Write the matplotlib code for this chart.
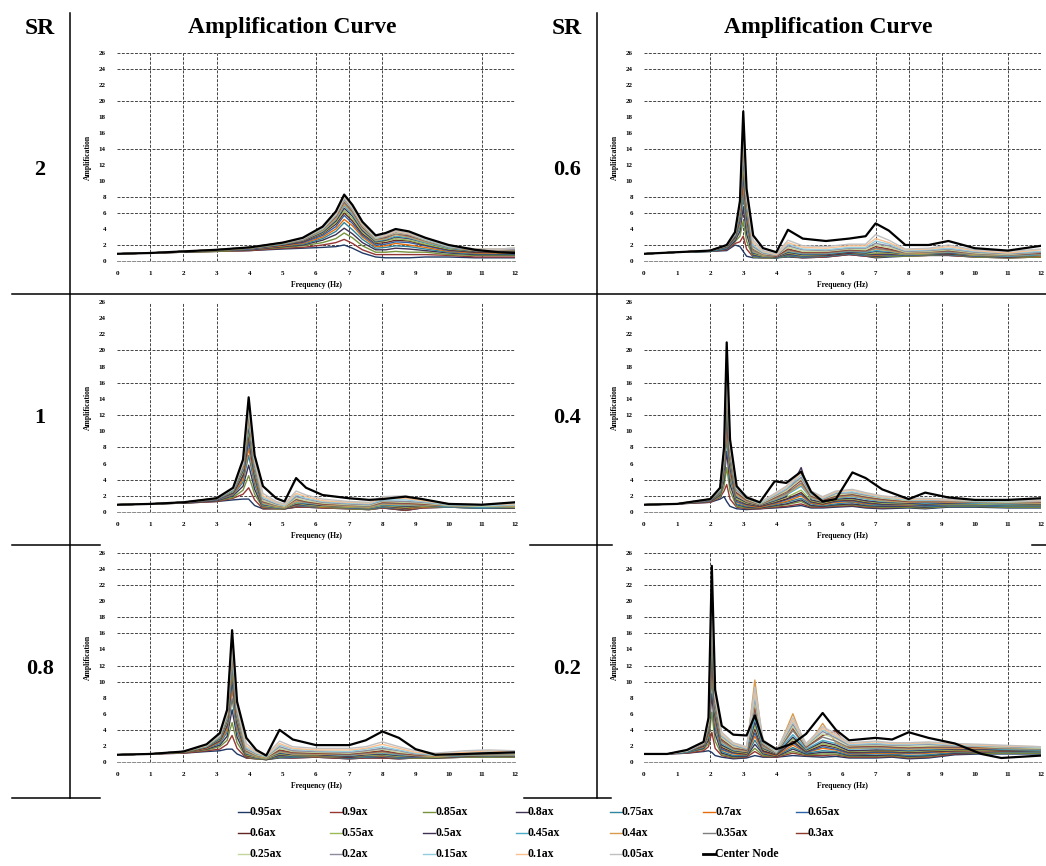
import matplotlib
matplotlib.use("Agg")
import matplotlib.pyplot as plt
from matplotlib.lines import Line2D

plt.rcParams['font.family'] = ['Liberation Serif', 'DejaVu Serif']
plt.rcParams['font.weight'] = 'bold'

# ---------------- data ----------------
series_labels = ['0.95ax', '0.9ax', '0.85ax', '0.8ax', '0.75ax', '0.7ax', '0.65ax',
                 '0.6ax', '0.55ax', '0.5ax', '0.45ax', '0.4ax', '0.35ax', '0.3ax',
                 '0.25ax', '0.2ax', '0.15ax', '0.1ax', '0.05ax', 'Center Node']
series_colors = ['#1F3864', '#953735', '#76923C', '#3F3151', '#31859C', '#E46C0A', '#2E62A6',
                 '#632523', '#9BBB59', '#403152', '#4BACC6', '#D99A4E', '#7F7F7F', '#8C3A2E',
                 '#C3D69B', '#8E8AA0', '#93CDDD', '#FAC090', '#C0C0C0', '#000000']

x_ticks = list(range(0, 13))
y_ticks = list(range(0, 27, 2))

# SR = 2
freq_sr2 = [0, 1, 2, 3, 4, 5, 5.6, 6.2, 6.6, 6.85, 7.1, 7.4, 7.8, 8.1, 8.4, 8.8, 9.3, 10, 10.8, 11.5, 12]
center_sr2 = [0.9, 1.0, 1.2, 1.4, 1.7, 2.3, 2.9, 4.3, 6.2, 8.3, 7.0, 4.9, 3.2, 3.5, 4.0, 3.7, 2.9, 2.0, 1.4, 1.1, 1.0]
ax_sr2 = [
    [0.9,1.0,1.1,1.2,1.3,1.5,1.6,1.7,1.8,2.0,1.6,1.0,0.5,0.4,0.4,0.4,0.5,0.5,0.4,0.4,0.4],
    [0.9,1.0,1.1,1.2,1.3,1.6,1.7,2.0,2.3,2.7,2.2,1.4,0.8,0.8,0.8,0.8,0.8,0.7,0.5,0.5,0.5],
    [0.9,1.0,1.1,1.2,1.4,1.7,1.9,2.3,2.8,3.5,2.9,1.9,1.1,1.1,1.2,1.1,1.1,0.8,0.7,0.7,0.7],
    [0.9,1.0,1.1,1.3,1.4,1.8,2.0,2.6,3.3,4.1,3.4,2.3,1.4,1.4,1.6,1.5,1.3,1.0,0.8,0.8,0.8],
    [0.9,1.0,1.2,1.3,1.5,1.9,2.1,2.8,3.7,4.8,3.9,2.7,1.6,1.7,1.9,1.8,1.5,1.1,0.9,0.9,0.9],
    [0.9,1.0,1.2,1.3,1.5,1.9,2.2,3.0,4.0,5.2,4.4,3.0,1.8,1.9,2.2,2.0,1.7,1.2,1.0,1.0,1.0],
    [0.9,1.0,1.2,1.3,1.5,2.0,2.3,3.2,4.3,5.7,4.7,3.2,2.0,2.1,2.4,2.3,1.9,1.3,1.1,1.1,1.1],
    [0.9,1.0,1.2,1.3,1.6,2.0,2.4,3.4,4.6,6.0,5.0,3.4,2.2,2.3,2.6,2.5,2.0,1.4,1.1,1.1,1.2],
    [0.9,1.0,1.2,1.3,1.6,2.1,2.5,3.5,4.8,6.3,5.3,3.6,2.3,2.5,2.8,2.6,2.1,1.5,1.2,1.2,1.3],
    [0.9,1.0,1.2,1.4,1.6,2.1,2.5,3.6,5.0,6.6,5.6,3.8,2.4,2.6,3.0,2.8,2.3,1.6,1.2,1.2,1.3],
    [0.9,1.0,1.2,1.4,1.6,2.1,2.6,3.7,5.2,6.9,5.8,4.0,2.5,2.7,3.1,2.9,2.3,1.6,1.3,1.3,1.4],
    [0.9,1.0,1.2,1.4,1.6,2.2,2.6,3.8,5.3,7.1,6.0,4.1,2.6,2.8,3.3,3.0,2.4,1.7,1.3,1.3,1.4],
    [0.9,1.0,1.2,1.4,1.7,2.2,2.6,3.9,5.5,7.3,6.1,4.2,2.7,2.9,3.4,3.1,2.5,1.7,1.4,1.4,1.4],
    [0.9,1.0,1.2,1.4,1.7,2.2,2.7,4.0,5.6,7.5,6.3,4.3,2.8,3.0,3.5,3.2,2.6,1.8,1.4,1.4,1.5],
    [0.9,1.0,1.2,1.4,1.7,2.2,2.7,4.0,5.7,7.6,6.4,4.4,2.8,3.1,3.5,3.3,2.6,1.8,1.4,1.4,1.5],
    [0.9,1.0,1.2,1.4,1.7,2.3,2.7,4.1,5.7,7.7,6.5,4.5,2.9,3.1,3.6,3.3,2.7,1.8,1.4,1.4,1.5],
    [0.9,1.0,1.2,1.4,1.7,2.3,2.8,4.1,5.8,7.9,6.6,4.6,2.9,3.2,3.7,3.4,2.7,1.8,1.5,1.5,1.6],
    [0.9,1.0,1.2,1.4,1.7,2.3,2.8,4.2,5.9,8.0,6.7,4.6,3.0,3.2,3.7,3.4,2.8,1.9,1.5,1.5,1.6],
    [0.9,1.0,1.2,1.4,1.7,2.3,2.8,4.2,6.0,8.1,6.8,4.7,3.0,3.3,3.8,3.5,2.8,1.9,1.5,1.5,1.6],
]

# SR = 0.6
freq_sr06 = [0, 1, 2, 2.5, 2.75, 2.9, 3.0, 3.1, 3.3, 3.6, 4.0, 4.35, 4.8, 5.5, 6.2, 6.7, 7.0, 7.4, 7.9, 8.6, 9.2, 10, 11, 12]
center_sr06 = [0.9, 1.1, 1.3, 2.0, 3.6, 7.5, 18.7, 9.0, 3.2, 1.6, 1.1, 3.9, 2.8, 2.5, 2.8, 3.1, 4.7, 3.8, 2.0, 2.0, 2.5, 1.6, 1.3, 1.9]
ax_sr06 = [
    [0.9,1.1,1.2,1.3,2.0,1.8,1.2,0.6,0.4,0.4,0.4,0.5,0.4,0.5,0.8,0.6,0.4,0.5,0.6,0.7,0.7,0.5,0.4,0.5],
    [0.9,1.1,1.2,1.4,2.2,2.4,3.1,1.5,0.5,0.4,0.4,0.6,0.4,0.5,0.8,0.6,0.5,0.6,0.6,0.7,0.7,0.5,0.4,0.5],
    [0.9,1.1,1.2,1.5,2.4,3.1,5.0,2.5,0.5,0.4,0.4,0.6,0.5,0.6,0.9,0.7,0.5,0.6,0.6,0.7,0.8,0.5,0.4,0.5],
    [0.9,1.1,1.2,1.5,2.5,3.7,6.7,3.4,0.6,0.5,0.4,0.7,0.5,0.6,0.9,0.7,0.6,0.7,0.7,0.8,0.8,0.6,0.5,0.6],
    [0.9,1.1,1.2,1.6,2.7,4.2,8.3,4.2,0.6,0.5,0.4,0.7,0.5,0.6,0.9,0.7,0.7,0.7,0.7,0.8,0.8,0.6,0.5,0.6],
    [0.9,1.1,1.3,1.7,2.8,4.7,9.6,4.8,0.7,0.5,0.5,0.8,0.6,0.7,1.0,0.8,0.7,0.8,0.7,0.8,0.9,0.6,0.5,0.6],
    [0.9,1.1,1.3,1.7,2.9,5.0,10.7,5.3,0.7,0.5,0.5,0.8,0.6,0.7,1.0,0.8,0.8,0.8,0.7,0.8,0.9,0.6,0.5,0.7],
    [0.9,1.1,1.3,1.8,3.0,5.4,11.6,5.8,0.8,0.6,0.5,0.9,0.7,0.7,1.0,0.9,0.9,0.9,0.8,0.9,0.9,0.7,0.5,0.7],
    [0.9,1.1,1.3,1.8,3.1,5.6,12.4,6.2,0.9,0.6,0.5,1.0,0.7,0.8,1.1,0.9,1.0,1.0,0.8,0.9,1.0,0.7,0.6,0.7],
    [0.9,1.1,1.3,1.8,3.1,5.9,13.2,6.6,1.0,0.7,0.5,1.1,0.8,0.8,1.1,1.0,1.2,1.1,0.9,1.0,1.0,0.8,0.6,0.8],
    [0.9,1.1,1.3,1.9,3.2,6.1,13.8,6.9,1.1,0.7,0.6,1.2,0.9,0.9,1.2,1.1,1.3,1.2,0.9,1.0,1.1,0.8,0.6,0.8],
    [0.9,1.1,1.3,1.9,3.3,6.3,14.5,7.2,1.2,0.7,0.6,1.3,1.0,1.0,1.3,1.2,1.5,1.3,0.9,1.0,1.2,0.8,0.7,0.9],
    [0.9,1.1,1.3,1.9,3.3,6.5,15.0,7.5,1.3,0.8,0.6,1.4,1.0,1.0,1.3,1.2,1.6,1.4,1.0,1.1,1.2,0.9,0.7,0.9],
    [0.9,1.1,1.3,1.9,3.4,6.7,15.4,7.7,1.5,0.9,0.6,1.5,1.1,1.1,1.4,1.3,1.8,1.5,1.1,1.2,1.3,1.0,0.8,1.0],
    [0.9,1.1,1.3,1.9,3.4,6.8,15.7,7.9,1.6,0.9,0.7,1.7,1.2,1.2,1.5,1.4,2.0,1.7,1.1,1.2,1.4,1.0,0.8,1.1],
    [0.9,1.1,1.3,2.0,3.4,6.9,16.1,8.0,1.8,1.0,0.7,1.9,1.4,1.3,1.6,1.6,2.2,1.9,1.2,1.3,1.5,1.1,0.9,1.1],
    [0.9,1.1,1.3,2.0,3.4,7.0,16.4,8.2,2.0,1.1,0.8,2.1,1.5,1.4,1.7,1.7,2.5,2.1,1.3,1.4,1.6,1.2,1.0,1.2],
    [0.9,1.1,1.3,2.0,3.5,7.1,16.7,8.3,2.3,1.2,0.8,2.3,1.7,1.6,1.9,1.9,2.8,2.3,1.4,1.5,1.8,1.3,1.0,1.4],
    [0.9,1.1,1.3,2.0,3.5,7.2,16.8,8.4,2.6,1.3,0.9,2.6,1.9,1.8,2.1,2.1,3.3,2.6,1.5,1.6,2.0,1.4,1.2,1.5],
]

# SR = 1
freq_sr1 = [0, 1, 2, 3, 3.5, 3.8, 3.97, 4.15, 4.4, 4.8, 5.05, 5.4, 5.7, 6.2, 7.0, 7.6, 8.0, 8.7, 9.2, 10, 11, 12]
center_sr1 = [0.9, 1.0, 1.2, 1.7, 3.0, 6.5, 14.2, 7.0, 3.2, 1.7, 1.3, 4.2, 3.0, 2.1, 1.7, 1.5, 1.6, 1.9, 1.6, 1.0, 0.9, 1.2]
ax_sr1 = [
    [0.9,1.0,1.1,1.3,1.5,1.6,1.6,0.8,0.4,0.4,0.4,0.6,0.6,0.5,0.4,0.3,0.5,0.2,0.5,0.6,0.5,0.5],
    [0.9,1.0,1.1,1.3,1.7,2.2,3.0,1.5,0.4,0.4,0.4,0.6,0.6,0.5,0.4,0.3,0.5,0.2,0.5,0.6,0.5,0.5],
    [0.9,1.0,1.1,1.4,1.8,2.7,4.5,2.2,0.5,0.4,0.4,0.7,0.7,0.6,0.4,0.3,0.6,0.3,0.6,0.6,0.5,0.5],
    [0.9,1.0,1.1,1.4,2.0,3.2,5.8,2.8,0.5,0.5,0.4,0.7,0.7,0.6,0.5,0.4,0.6,0.3,0.6,0.6,0.5,0.5],
    [0.9,1.0,1.2,1.5,2.1,3.7,7.0,3.4,0.6,0.5,0.5,0.8,0.7,0.6,0.5,0.4,0.6,0.4,0.6,0.6,0.5,0.6],
    [0.9,1.0,1.2,1.5,2.2,4.0,7.9,3.9,0.6,0.5,0.5,0.8,0.8,0.6,0.5,0.4,0.7,0.4,0.6,0.7,0.6,0.6],
    [0.9,1.0,1.2,1.5,2.3,4.4,8.7,4.3,0.7,0.5,0.5,0.9,0.8,0.7,0.5,0.4,0.7,0.5,0.7,0.7,0.6,0.6],
    [0.9,1.0,1.2,1.6,2.4,4.6,9.5,4.6,0.8,0.6,0.5,1.0,0.9,0.7,0.6,0.5,0.8,0.5,0.7,0.7,0.6,0.6],
    [0.9,1.0,1.2,1.6,2.5,4.9,10.1,4.9,0.8,0.6,0.5,1.1,0.9,0.7,0.6,0.5,0.8,0.6,0.7,0.7,0.6,0.6],
    [0.9,1.0,1.2,1.6,2.6,5.1,10.6,5.2,0.9,0.7,0.6,1.2,1.0,0.8,0.7,0.6,0.9,0.7,0.8,0.7,0.6,0.7],
    [0.9,1.0,1.2,1.6,2.6,5.3,11.1,5.4,1.0,0.7,0.6,1.2,1.1,0.9,0.7,0.6,0.9,0.8,0.9,0.7,0.6,0.7],
    [0.9,1.0,1.2,1.6,2.7,5.5,11.6,5.7,1.1,0.7,0.6,1.3,1.2,0.9,0.7,0.6,1.0,0.9,0.9,0.8,0.7,0.7],
    [0.9,1.0,1.2,1.6,2.7,5.6,12.0,5.8,1.2,0.8,0.7,1.5,1.2,1.0,0.8,0.7,1.1,1.0,1.0,0.8,0.7,0.8],
    [0.9,1.0,1.2,1.7,2.8,5.7,12.3,6.0,1.3,0.9,0.7,1.6,1.3,1.0,0.9,0.8,1.2,1.1,1.0,0.8,0.7,0.8],
    [0.9,1.0,1.2,1.7,2.8,5.8,12.5,6.1,1.4,0.9,0.7,1.7,1.4,1.1,0.9,0.8,1.3,1.2,1.1,0.8,0.7,0.8],
    [0.9,1.0,1.2,1.7,2.8,5.9,12.8,6.3,1.6,1.0,0.8,1.9,1.6,1.2,1.0,0.9,1.4,1.3,1.2,0.9,0.8,0.9],
    [0.9,1.0,1.2,1.7,2.8,6.0,13.0,6.4,1.8,1.1,0.8,2.1,1.7,1.3,1.1,1.0,1.5,1.5,1.3,0.9,0.8,0.9],
    [0.9,1.0,1.2,1.7,2.9,6.1,13.3,6.5,2.0,1.2,0.9,2.3,1.9,1.4,1.2,1.1,1.7,1.7,1.4,1.0,0.9,1.0],
    [0.9,1.0,1.2,1.7,2.9,6.2,13.4,6.5,2.3,1.3,1.0,2.6,2.1,1.6,1.3,1.2,1.9,2.0,1.6,1.0,0.9,1.1],
]

# SR = 0.4
freq_sr04 = [0, 1, 2.0, 2.3, 2.42, 2.5, 2.6, 2.8, 3.1, 3.5, 3.95, 4.3, 4.75, 5.05, 5.4, 5.8, 6.3, 6.7, 7.2, 8.0, 8.5, 9.2, 10, 11, 12]
center_sr04 = [0.9, 1.0, 1.6, 3.0, 8.0, 21.0, 9.0, 3.2, 1.8, 1.2, 3.8, 3.6, 5.0, 2.5, 1.3, 1.6, 4.9, 4.2, 2.8, 1.6, 2.4, 1.8, 1.5, 1.5, 1.7]
ax_sr04 = [
    [0.9,1.0,1.2,1.6,1.9,1.3,0.7,0.4,0.3,0.4,0.5,0.6,0.8,0.5,0.5,0.6,0.7,0.5,0.4,0.5,0.4,0.6,0.6,0.5,0.5],
    [0.9,1.0,1.2,1.8,2.6,3.4,1.6,0.6,0.4,0.4,0.6,0.7,1.0,0.6,0.6,0.7,0.8,0.6,0.5,0.6,0.5,0.7,0.7,0.6,0.6],
    [0.9,1.0,1.3,1.9,3.2,5.5,2.6,0.7,0.5,0.5,0.7,0.9,1.3,0.7,0.7,0.8,0.9,0.7,0.6,0.6,0.5,0.7,0.7,0.6,0.6],
    [0.9,1.0,1.3,2.1,3.9,7.5,3.4,0.9,0.6,0.5,0.8,1.0,1.5,0.8,0.7,0.9,1.0,0.8,0.7,0.7,0.6,0.8,0.8,0.7,0.7],
    [0.9,1.0,1.4,2.2,4.4,9.3,4.2,1.0,0.7,0.6,0.9,1.2,1.7,1.0,0.8,1.0,1.2,0.9,0.8,0.8,0.7,0.8,0.8,0.7,0.7],
    [0.9,1.0,1.4,2.3,4.9,10.7,4.8,1.2,0.8,0.6,1.0,1.3,2.0,1.1,0.9,1.2,1.3,1.0,0.9,0.8,0.8,0.9,0.9,0.8,0.8],
    [0.9,1.0,1.4,2.4,5.3,11.9,5.4,1.3,0.9,0.7,1.1,1.5,2.2,1.2,1.0,1.3,1.4,1.1,0.9,0.9,0.8,0.9,0.9,0.8,0.8],
    [0.9,1.0,1.5,2.5,5.6,13.0,5.8,1.5,1.0,0.7,1.2,1.6,2.4,1.3,1.0,1.4,1.5,1.2,1.0,1.0,0.9,1.0,1.0,0.9,0.9],
    [0.9,1.0,1.5,2.5,5.9,13.9,6.2,1.6,1.1,0.8,1.3,1.8,2.7,1.4,1.1,1.5,1.6,1.3,1.1,1.0,1.0,1.0,1.0,0.9,0.9],
    [0.9,1.0,1.5,2.6,6.2,14.8,6.6,1.8,1.2,0.8,1.4,1.9,5.5,1.5,1.2,1.6,1.7,1.4,1.2,1.1,1.0,1.1,1.1,1.0,1.0],
    [0.9,1.0,1.5,2.6,6.4,15.5,6.9,2.0,1.3,0.9,1.5,2.1,3.2,1.7,1.3,1.7,1.9,1.6,1.3,1.2,1.1,1.2,1.1,1.0,1.1],
    [0.9,1.0,1.5,2.7,6.6,16.2,7.3,2.1,1.3,0.9,1.6,2.2,3.4,1.8,1.3,1.8,2.0,1.7,1.4,1.2,1.2,1.2,1.2,1.1,1.1],
    [0.9,1.0,1.5,2.7,6.8,16.7,7.5,2.3,1.4,0.9,1.7,2.3,3.6,1.9,1.4,1.9,2.1,1.8,1.5,1.3,1.2,1.3,1.2,1.1,1.2],
    [0.9,1.0,1.6,2.8,6.9,17.2,7.7,2.4,1.5,1.0,1.8,2.5,3.9,2.0,1.5,2.0,2.2,1.9,1.6,1.3,1.3,1.3,1.3,1.2,1.2],
    [0.9,1.0,1.6,2.8,7.1,17.6,7.9,2.6,1.6,1.0,1.9,2.6,4.1,2.1,1.6,2.1,2.3,2.0,1.7,1.4,1.4,1.4,1.3,1.2,1.3],
    [0.9,1.0,1.6,2.8,7.2,17.9,8.0,2.7,1.7,1.1,2.0,2.8,4.3,2.2,1.6,2.3,2.4,2.1,1.8,1.5,1.5,1.4,1.4,1.3,1.3],
    [0.9,1.0,1.6,2.8,7.3,18.3,8.2,2.9,1.8,1.1,2.1,2.9,4.6,2.3,1.7,2.4,2.5,2.2,1.8,1.5,1.5,1.5,1.4,1.3,1.4],
    [0.9,1.0,1.6,2.9,7.4,18.6,8.3,3.0,1.9,1.2,2.2,3.1,4.8,2.5,1.8,2.5,2.7,2.3,1.9,1.6,1.6,1.5,1.5,1.4,1.4],
    [0.9,1.0,1.6,2.9,7.4,18.8,8.4,3.2,2.0,1.2,2.3,3.2,5.0,2.6,1.9,2.6,2.8,2.4,2.0,1.7,1.7,1.6,1.5,1.4,1.5],
]

# SR = 0.8
freq_sr08 = [0, 1, 2, 2.7, 3.1, 3.32, 3.47, 3.62, 3.9, 4.2, 4.5, 4.9, 5.3, 6.0, 7.0, 7.5, 8.0, 8.5, 9.0, 9.6, 10.5, 11.2, 12]
center_sr08 = [0.9, 1.0, 1.3, 2.2, 3.6, 6.5, 16.4, 7.5, 3.0, 1.5, 0.8, 4.0, 2.8, 2.1, 2.1, 2.7, 3.8, 3.0, 1.6, 0.9, 1.0, 1.1, 1.2]
ax_sr08 = [
    [0.9,1.0,1.1,1.3,1.4,1.6,1.6,1.0,0.5,0.4,0.3,0.5,0.5,0.6,0.4,0.5,0.5,0.4,0.5,0.5,0.6,0.6,0.6],
    [0.9,1.0,1.1,1.4,1.6,2.2,3.3,1.7,0.5,0.4,0.3,0.6,0.5,0.6,0.4,0.5,0.5,0.4,0.5,0.5,0.6,0.6,0.6],
    [0.9,1.0,1.2,1.5,1.9,2.7,4.9,2.4,0.6,0.4,0.3,0.6,0.6,0.7,0.5,0.6,0.6,0.5,0.5,0.5,0.6,0.6,0.6],
    [0.9,1.0,1.2,1.6,2.1,3.2,6.5,3.1,0.6,0.5,0.3,0.7,0.6,0.7,0.5,0.6,0.6,0.5,0.6,0.5,0.7,0.7,0.7],
    [0.9,1.0,1.2,1.7,2.3,3.7,7.9,3.7,0.7,0.5,0.4,0.7,0.6,0.7,0.5,0.6,0.7,0.5,0.6,0.6,0.7,0.7,0.7],
    [0.9,1.0,1.2,1.7,2.5,4.0,9.0,4.2,0.7,0.5,0.4,0.8,0.7,0.7,0.6,0.7,0.7,0.6,0.6,0.6,0.7,0.7,0.7],
    [0.9,1.0,1.2,1.8,2.6,4.4,9.9,4.6,0.8,0.5,0.4,0.8,0.7,0.8,0.6,0.7,0.8,0.6,0.6,0.6,0.7,0.7,0.7],
    [0.9,1.0,1.2,1.8,2.7,4.6,10.8,5.0,0.8,0.6,0.4,0.9,0.8,0.8,0.6,0.8,0.9,0.7,0.7,0.6,0.7,0.8,0.7],
    [0.9,1.0,1.2,1.9,2.8,4.9,11.5,5.3,0.9,0.6,0.4,1.0,0.8,0.8,0.7,0.8,0.9,0.7,0.7,0.6,0.8,0.8,0.8],
    [0.9,1.0,1.3,1.9,2.9,5.1,12.2,5.6,1.0,0.7,0.5,1.1,0.9,0.9,0.7,0.9,1.0,0.8,0.7,0.7,0.8,0.9,0.8],
    [0.9,1.0,1.3,1.9,3.0,5.3,12.7,5.8,1.1,0.7,0.5,1.2,1.0,1.0,0.8,1.0,1.1,0.9,0.8,0.7,0.8,0.9,0.8],
    [0.9,1.0,1.3,2.0,3.1,5.5,13.3,6.0,1.2,0.7,0.5,1.3,1.0,1.0,0.9,1.0,1.2,1.0,0.8,0.7,0.9,0.9,0.9],
    [0.9,1.0,1.3,2.0,3.1,5.6,13.7,6.2,1.3,0.8,0.6,1.4,1.1,1.1,0.9,1.1,1.3,1.0,0.9,0.8,0.9,1.0,0.9],
    [0.9,1.0,1.3,2.0,3.2,5.7,14.1,6.4,1.4,0.9,0.6,1.5,1.2,1.1,1.0,1.2,1.4,1.1,0.9,0.8,1.0,1.1,1.0],
    [0.9,1.0,1.3,2.0,3.2,5.8,14.4,6.5,1.5,0.9,0.6,1.7,1.3,1.2,1.1,1.3,1.6,1.2,1.0,0.8,1.0,1.1,1.0],
    [0.9,1.0,1.3,2.1,3.3,5.9,14.7,6.6,1.6,1.0,0.7,1.9,1.4,1.3,1.2,1.4,1.7,1.4,1.0,0.9,1.1,1.2,1.1],
    [0.9,1.0,1.3,2.1,3.3,6.0,14.9,6.8,1.8,1.1,0.7,2.1,1.6,1.4,1.3,1.6,1.9,1.5,1.1,0.9,1.2,1.3,1.2],
    [0.9,1.0,1.3,2.1,3.4,6.1,15.2,6.9,2.0,1.2,0.8,2.3,1.7,1.5,1.5,1.7,2.2,1.7,1.2,1.0,1.2,1.4,1.2],
    [0.9,1.0,1.3,2.1,3.4,6.2,15.4,6.9,2.3,1.3,0.9,2.6,1.9,1.7,1.7,1.9,2.5,1.9,1.4,1.1,1.4,1.5,1.4],
]

# SR = 0.2
freq_sr02 = [0, 0.7, 1.3, 1.8, 1.95, 2.05, 2.15, 2.35, 2.7, 3.1, 3.35, 3.6, 4.0, 4.5, 4.9, 5.4, 5.8, 6.2, 7.0, 7.5, 8.0, 8.6, 9.4, 10.2, 10.8, 12]
center_sr02 = [1.0, 1.0, 1.5, 2.5, 5.5, 24.4, 9.0, 4.5, 3.4, 3.3, 5.8, 2.6, 1.6, 2.3, 3.5, 6.1, 4.0, 2.7, 3.0, 2.8, 3.7, 3.0, 2.3, 1.0, 0.5, 0.8]
ax_sr02 = [
    [1.0,1.0,1.1,1.3,1.4,1.2,0.8,0.6,0.4,0.5,0.8,0.6,0.6,0.8,0.7,0.6,0.7,0.5,0.5,0.6,0.4,0.5,0.9,1.0,1.0,1.0],
    [1.0,1.0,1.1,1.4,1.9,3.7,1.7,0.8,0.5,0.6,1.3,0.7,0.6,1.1,0.8,0.8,0.9,0.6,0.6,0.7,0.5,0.6,1.0,1.1,1.1,1.1],
    [1.0,1.0,1.2,1.6,2.3,6.2,2.6,0.9,0.6,0.7,1.7,0.8,0.7,1.3,0.9,1.0,1.0,0.7,0.7,0.8,0.6,0.7,1.1,1.1,1.1,1.1],
    [1.0,1.0,1.2,1.7,2.7,8.5,3.5,1.1,0.7,0.7,2.2,1.0,0.7,1.6,1.0,1.2,1.2,0.8,0.8,0.9,0.7,0.8,1.1,1.2,1.2,1.2],
    [1.0,1.0,1.2,1.8,3.1,10.6,4.3,1.3,0.8,0.8,2.7,1.1,0.8,1.8,1.1,1.4,1.3,0.9,1.0,1.0,0.8,0.9,1.2,1.3,1.2,1.2],
    [1.0,1.0,1.3,1.9,3.4,12.2,4.9,1.5,1.0,0.9,3.2,1.2,0.8,2.1,1.2,1.7,1.5,1.0,1.1,1.1,1.0,1.1,1.3,1.3,1.3,1.3],
    [1.0,1.0,1.3,2.0,3.7,13.7,5.4,1.6,1.1,1.0,3.6,1.3,0.9,2.4,1.2,1.9,1.6,1.1,1.2,1.2,1.1,1.2,1.4,1.4,1.4,1.3],
    [1.0,1.0,1.3,2.0,3.9,14.9,5.9,1.8,1.2,1.0,4.1,1.4,0.9,2.6,1.3,2.1,1.8,1.2,1.3,1.3,1.2,1.3,1.4,1.5,1.4,1.4],
    [1.0,1.0,1.3,2.1,4.1,16.0,6.3,2.0,1.3,1.1,4.6,1.6,1.0,2.9,1.4,2.3,1.9,1.3,1.4,1.4,1.3,1.4,1.5,1.5,1.5,1.4],
    [1.0,1.0,1.3,2.1,4.3,17.0,6.7,2.1,1.4,1.2,5.0,1.7,1.0,3.1,1.5,2.5,2.1,1.4,1.5,1.5,1.4,1.5,1.6,1.6,1.5,1.5],
    [1.0,1.0,1.3,2.2,4.4,17.8,7.0,2.3,1.5,1.3,5.5,1.8,1.1,3.4,1.6,2.7,2.3,1.6,1.7,1.6,1.5,1.6,1.7,1.7,1.6,1.5],
    [1.0,1.0,1.4,2.2,4.6,18.7,7.3,2.5,1.6,1.3,10.2,1.9,1.1,6.0,1.7,4.8,2.4,1.7,1.8,1.7,1.6,1.7,1.7,1.7,1.7,1.6],
    [1.0,1.0,1.4,2.3,4.7,19.3,7.5,2.6,1.7,1.4,6.4,2.0,1.1,3.9,1.8,3.1,2.6,1.8,1.9,1.8,1.7,1.8,1.8,1.8,1.7,1.6],
    [1.0,1.0,1.4,2.3,4.8,19.9,7.7,2.8,1.8,1.5,6.9,2.2,1.2,4.2,1.9,3.3,3.8,1.9,2.0,1.9,1.8,1.9,1.9,1.8,1.8,1.7],
    [1.0,1.0,1.4,2.3,4.9,20.3,7.9,3.0,1.9,1.6,7.4,2.3,1.2,4.4,2.0,3.5,2.9,2.0,2.1,2.0,1.9,2.0,2.0,1.9,1.8,1.7],
    [1.0,1.0,1.4,2.3,5.0,20.8,8.0,3.2,2.1,1.6,7.9,2.4,1.3,4.7,2.1,3.8,3.0,2.1,2.2,2.1,2.1,2.2,2.0,2.0,1.9,1.8],
    [1.0,1.0,1.4,2.4,5.0,21.2,8.2,3.3,2.2,1.7,8.3,2.5,1.3,5.0,2.1,4.0,3.2,2.2,2.3,2.2,2.2,2.3,2.1,2.0,2.0,1.8],
    [1.0,1.0,1.4,2.4,5.1,21.6,8.3,3.5,2.3,1.8,8.8,2.6,1.4,5.2,2.2,4.2,3.3,2.3,2.5,2.3,2.3,2.4,2.2,2.1,2.0,1.9],
    [1.0,1.0,1.4,2.4,5.2,21.8,8.4,3.7,2.4,1.9,9.3,2.8,1.4,5.5,2.3,4.4,3.5,2.4,2.6,2.4,2.4,2.5,2.3,2.2,2.1,1.9],
]

# ---------------- layout (pixels in a 1046 x 866 canvas) ----------------
W, H = 1046, 866
fig = plt.figure(figsize=(W / 100, H / 100), dpi=100)

col_x = [(117, 515), (644, 1041)]           # x=0 .. x=12 pixel positions
row_y = [(261, 53), (512, 302), (762, 553)]  # y=0 .. y=26 pixel positions
row_grid_y = [[2, 6, 8, 14, 20, 24, 26], [2, 4, 8, 12, 16, 20], [4, 10, 12, 16, 18, 22, 24, 26]]
col_grid_x = [[1, 2, 3, 6, 7, 8, 11], [2, 3, 4, 7, 8, 9, 11, 12]]

panels = [
    ('2', 0, 0, freq_sr2, ax_sr2, center_sr2),
    ('0.6', 0, 1, freq_sr06, ax_sr06, center_sr06),
    ('1', 1, 0, freq_sr1, ax_sr1, center_sr1),
    ('0.4', 1, 1, freq_sr04, ax_sr04, center_sr04),
    ('0.8', 2, 0, freq_sr08, ax_sr08, center_sr08),
    ('0.2', 2, 1, freq_sr02, ax_sr02, center_sr02),
]

def fx(px):
    return px / W

def fy(py):
    return 1 - py / H

for sr, r, c, freq, rows, center in panels:
    x0, x1 = col_x[c]
    yb, yt = row_y[r]
    ax = fig.add_axes([fx(x0), fy(yb), fx(x1 - x0), (yb - yt) / H])
    ax.xaxis.remove_overlapping_locs = False
    ax.yaxis.remove_overlapping_locs = False
    for k, vals in enumerate(rows):
        ax.plot(freq, vals, color=series_colors[k], lw=1.0, solid_joinstyle='round')
    ax.plot(freq, center, color=series_colors[-1], lw=1.6, solid_joinstyle='round')
    ax.set_xlim(0, 12)
    ax.set_ylim(0, 26)
    ax.set_xticks(x_ticks)
    ax.set_yticks(y_ticks)
    ax.set_xticklabels([str(t) for t in x_ticks], fontsize=5, fontweight='bold')
    ax.set_yticklabels([str(t) for t in y_ticks], fontsize=5, fontweight='bold')
    ax.set_xticks(col_grid_x[c], minor=True)
    ax.set_yticks(row_grid_y[r], minor=True)
    ax.tick_params(which='both', length=0)
    ax.tick_params(axis='x', pad=7)
    ax.tick_params(axis='y', pad=8)
    ax.grid(False, which='major')
    ax.grid(True, which='minor', color='#444444', lw=0.7, ls=(0, (3, 1.5)))
    ax.set_axisbelow(True)
    for s in ax.spines.values():
        s.set_visible(False)
    ax.spines['bottom'].set_visible(True)
    ax.spines['bottom'].set_color('#777777')
    ax.spines['bottom'].set_linewidth(0.6)
    ax.spines['bottom'].set_linestyle((0, (4, 2)))
    ax.set_xlabel('Frequency (Hz)', fontsize=5.5, fontweight='bold', labelpad=4)
    ax.set_ylabel('Amplification', fontsize=5.5, fontweight='bold', labelpad=5)
    # row label
    lx = 40 if c == 0 else 567
    ly = [170, 418, 669][r]
    fig.text(fx(lx), fy(ly), sr, ha='center', va='center', fontsize=16, fontweight='bold')

# headers
for hx, tx in [(40, 292), (567, 828)]:
    fig.text(fx(hx), fy(28), 'SR', ha='center', va='center', fontsize=17, fontweight='bold')
    fig.text(fx(tx), fy(28), 'Amplification Curve', ha='center', va='center', fontsize=17, fontweight='bold')

# table rules
def rule(xa, ya, xb, yb):
    fig.add_artist(Line2D([fx(xa), fx(xb)], [fy(ya), fy(yb)], transform=fig.transFigure,
                          color='black', lw=1.1))

rule(70, 13, 70, 798)
rule(597, 13, 597, 798)
rule(12, 294, 1046, 294)
rule(12, 545, 100, 545)
rule(530, 545, 612, 545)
rule(1032, 545, 1046, 545)
rule(12, 798, 100, 798)
rule(524, 798, 611, 798)

# legend (7 columns x 3 rows)
leg_x = [238, 330, 423, 516, 610, 703, 796]
leg_y = [812, 833, 854]
for k, lab in enumerate(series_labels):
    rr, cc = divmod(k, 7)
    xs = leg_x[cc]
    yy = leg_y[rr]
    lw = 2.0 if lab == 'Center Node' else 1.0
    fig.add_artist(Line2D([fx(xs), fx(xs + 12)], [fy(yy), fy(yy)], transform=fig.transFigure,
                          color=series_colors[k], lw=lw))
    fig.text(fx(xs + 12), fy(yy), lab, ha='left', va='center', fontsize=8.5, fontweight='bold')

fig.savefig('out.png', dpi=100)
